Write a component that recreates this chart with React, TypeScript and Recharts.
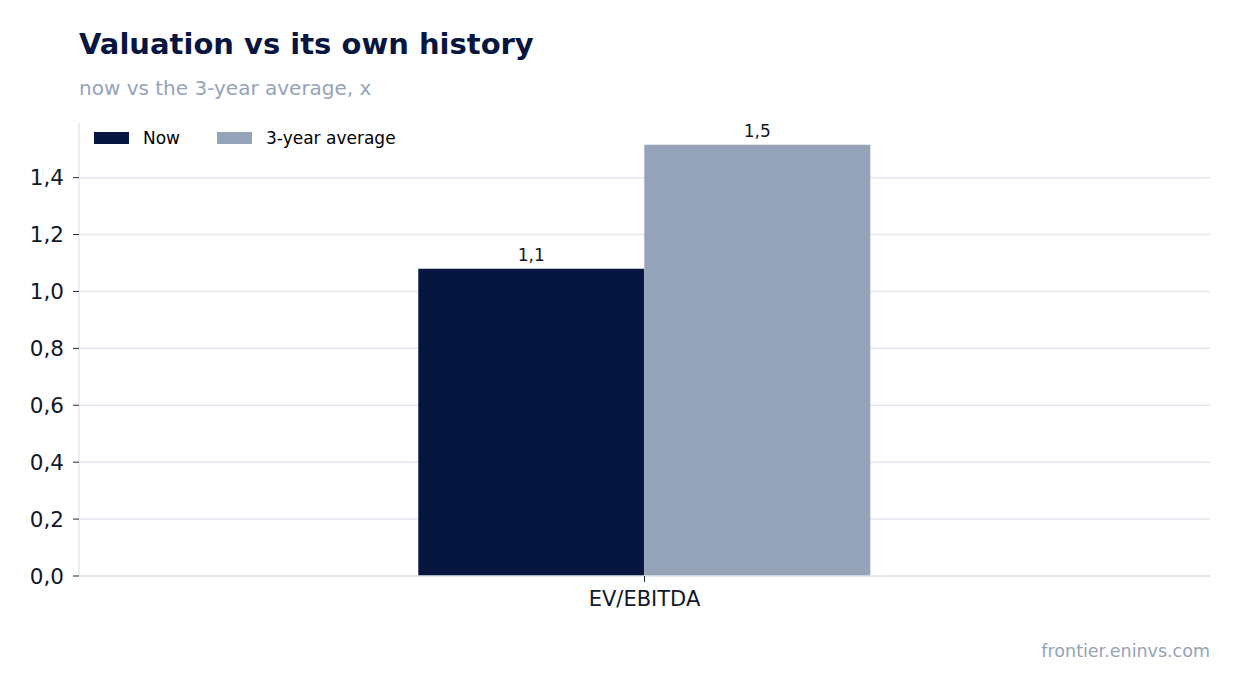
import React from 'react';
import { BarChart, Bar, XAxis, YAxis, CartesianGrid, LabelList } from 'recharts';

const categories = ['EV/EBITDA'];
const nowValues = [1.08];
const avgValues = [1.516];
const yTicks = [0, 0.2, 0.4, 0.6, 0.8, 1.0, 1.2, 1.4];
const seriesNames = ['Now', '3-year average'];

const data = categories.map((c, i) => ({ name: c, now: nowValues[i], avg: avgValues[i] }));

const NAVY = '#061640';
const SLATE = '#94a3b8';
const GRID = '#e2e8f0';
const FONT = '"DejaVu Sans", sans-serif';

const fmt = (v: any) => Number(v).toFixed(1).replace('.', ',');

export default function App() {
  return (
    <div style={{ position: 'absolute', left: 0, top: 0, width: 1241, height: 693, background: '#fff', fontFamily: FONT }}>
      <div style={{ position: 'absolute', left: 79, top: 27, fontSize: 29, fontWeight: 'bold', color: NAVY, whiteSpace: 'nowrap' }}>
        Valuation vs its own history
      </div>
      <div style={{ position: 'absolute', left: 79, top: 76, fontSize: 20, color: SLATE, whiteSpace: 'nowrap' }}>
        now vs the 3-year average, x
      </div>
      <BarChart
        width={1241}
        height={693}
        data={data}
        margin={{ top: 123, right: 31, bottom: 77, left: 0 }}
        barCategoryGap="30%"
        barGap={0}
      >
        <CartesianGrid vertical={false} stroke={GRID} strokeWidth={1.5} syncWithTicks />
        <XAxis
          dataKey="name"
          axisLine={{ stroke: GRID, strokeWidth: 1.5 }}
          tickLine={{ stroke: '#1f2937' }}
          tickSize={6}
          tickMargin={9}
          tick={{ fill: '#111827', fontSize: 21, fontFamily: FONT }}
          height={40}
        />
        <YAxis
          width={79}
          domain={[0, 1.592]}
          ticks={yTicks}
          interval={0}
          tickFormatter={fmt}
          axisLine={{ stroke: GRID, strokeWidth: 1.5 }}
          tickLine={{ stroke: '#1f2937' }}
          tickSize={6}
          tickMargin={9}
          tick={{ fill: '#111827', fontSize: 21.5, fontFamily: FONT }}
          allowDataOverflow
        />
        <Bar dataKey="now" name={seriesNames[0]} fill={NAVY} isAnimationActive={false}>
          <LabelList dataKey="now" position="top" offset={8} formatter={fmt} fill="#111827" fontSize={17} fontFamily={FONT} />
        </Bar>
        <Bar dataKey="avg" name={seriesNames[1]} fill={SLATE} isAnimationActive={false}>
          <LabelList dataKey="avg" position="top" offset={8} formatter={fmt} fill="#111827" fontSize={17} fontFamily={FONT} />
        </Bar>
      </BarChart>
      <div style={{ position: 'absolute', left: 94, top: 128, display: 'flex', alignItems: 'center', fontSize: 17, color: '#000', whiteSpace: 'nowrap' }}>
        <span style={{ display: 'inline-block', width: 35, height: 12, background: NAVY, marginRight: 14 }} />
        <span style={{ marginRight: 37 }}>{seriesNames[0]}</span>
        <span style={{ display: 'inline-block', width: 35, height: 12, background: SLATE, marginRight: 14 }} />
        <span>{seriesNames[1]}</span>
      </div>
      <div style={{ position: 'absolute', right: 31, top: 641, fontSize: 17.5, color: SLATE, whiteSpace: 'nowrap' }}>
        frontier.eninvs.com
      </div>
    </div>
  );
}
